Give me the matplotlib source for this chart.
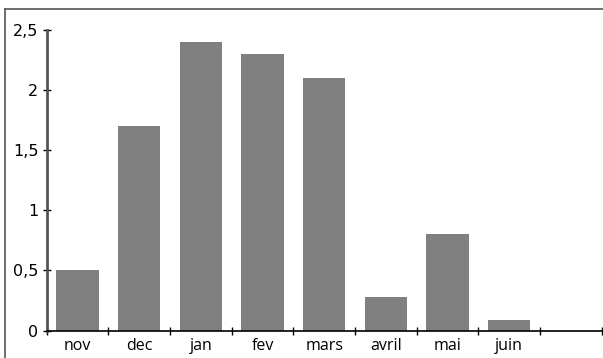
import matplotlib
matplotlib.use("Agg")
import matplotlib.pyplot as plt
from matplotlib.lines import Line2D
import numpy as np

months = ["nov", "dec", "jan", "fev", "mars", "avril", "mai", "juin"]
values = [0.5, 1.7, 2.4, 2.3, 2.1, 0.28, 0.8, 0.09]
n_slots = 9
y_ticks = [0, 0.5, 1, 1.5, 2, 2.5]
y_tick_labels = ["0", "0,5", "1", "1,5", "2", "2,5"]

W, H = 603, 358
fig = plt.figure(figsize=(W / 100, H / 100), dpi=100)
fig.patch.set_facecolor("white")

# outer frame (top and left edges)
fig.add_artist(Line2D([5 / W, 5 / W], [0, 1 - 9 / H], color="#555555", lw=1.2,
                      transform=fig.transFigure))
fig.add_artist(Line2D([5 / W, 1], [1 - 9 / H, 1 - 9 / H], color="#555555", lw=1.2,
                      transform=fig.transFigure))

left, right = 46.7 / W, 601.7 / W
bottom, top = (H - 330.7) / H, (H - 29.5) / H
ax = fig.add_axes([left, bottom, right - left, top - bottom])

x = np.arange(len(months)) + 0.5
ax.bar(x, values, width=0.686, color="#808080", zorder=2)

ax.set_xlim(0, n_slots)
ax.set_ylim(0, 2.5)

for s in ["top", "right"]:
    ax.spines[s].set_visible(False)
ax.spines["left"].set_color("#555555")
ax.spines["left"].set_linewidth(2.0)
ax.spines["bottom"].set_color("black")
ax.spines["bottom"].set_linewidth(1.2)

ax.set_xticks(np.arange(n_slots + 1))
ax.set_xticklabels([])
ax.set_xticks(x, minor=True)
ax.set_xticklabels(months, minor=True, fontfamily="Open Sans", fontsize=11.5)
ax.tick_params(axis="x", which="major", direction="inout", length=6, width=1.0, color="black")
ax.tick_params(axis="x", which="minor", length=0, pad=5)

ax.set_yticks(y_ticks)
ax.set_yticklabels(y_tick_labels, fontfamily="DejaVu Sans", fontsize=11.5)
ax.tick_params(axis="y", direction="inout", length=6, width=1.0, color="black", pad=3)

fig.savefig("out.png", dpi=100)
